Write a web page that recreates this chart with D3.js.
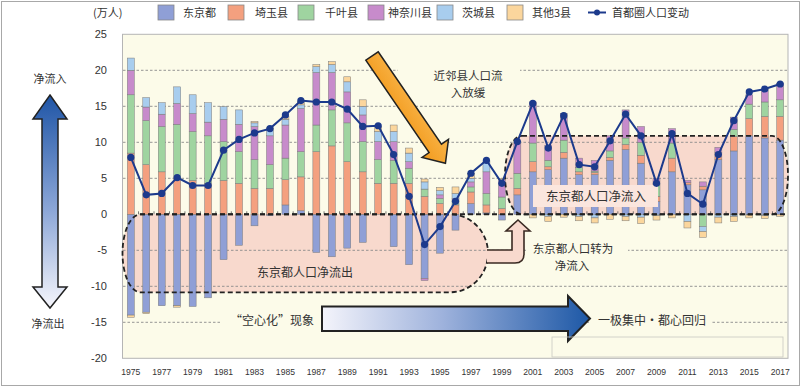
<!DOCTYPE html>
<html>
<head>
<meta charset="utf-8">
<script src="https://cdn.jsdelivr.net/npm/d3@7/dist/d3.min.js"></script>
<style>
  body { margin: 0; background: #fff; }
  svg text { font-family: "Noto Sans CJK SC", "Liberation Sans", sans-serif; fill: #333; }
  .num { font-family: "Liberation Sans", Arial, sans-serif !important; }
</style>
</head>
<body>
<script>
// categories
const years = [1975,1976,1977,1978,1979,1980,1981,1982,1983,1984,
  1985,1986,1987,1988,1989,1990,1991,1992,1993,1994,
  1995,1996,1997,1998,1999,2000,2001,2002,2003,2004,
  2005,2006,2007,2008,2009,2010,2011,2012,2013,2014,
  2015,2016,2017];
const seriesNames = ["东京都", "埼玉县", "千叶县", "神奈川县", "茨城县", "其他3县"];
const lineName = "首都圈人口变动";

// 万人
const tokyo = [-14.0,-13.6,-12.7,-12.7,-12.8,-11.6,-6.3,-4.3,-1.6,-0.2,
  1.3,0.5,-5.3,-5.9,-4.7,-3.9,0,-4.5,-7.0,-8.9,
  -5.4,-2.2,1.5,0.2,-0.8,2.7,5.9,6.2,7.8,5.5,
  5.5,7.5,9.0,7.1,1.8,5.9,4.1,3.4,7.6,8.8,
  10.9,10.6,10.3];
const saitama = [8.5,6.9,5.9,5.0,4.7,4.3,4.7,4.3,3.6,3.6,
  3.5,4.7,8.7,9.5,7.3,5.9,4.3,4.3,4.3,2.5,
  1.5,1.3,1.6,1.1,0.8,0.9,1.4,0.4,0.8,0.4,
  0.3,0.4,0.7,1.1,0.7,1.9,0.3,0.5,1.0,2.0,
  2.4,3.0,3.3];
const chiba = [8.1,6.1,6.3,7.5,6.8,6.6,5.4,4.4,4.0,3.3,
  3.0,3.5,3.7,5.0,5.4,4.2,3.3,3.2,2.1,1.0,
  0.7,0.55,0.7,1.6,1.6,2.1,2.6,0.9,1.7,0.6,
  0.2,0.9,0.9,1.8,1.6,2.1,0,-1.7,0,1.0,
  2.0,2.0,2.3];
const kanagawa = [3.4,1.9,1.7,2.9,2.5,1.9,3.1,3.8,4.6,4.0,
  4.6,6.0,7.3,5.2,4.3,3.7,2.5,2.6,0.9,-0.3,
  0.5,0.35,0.7,3.0,2.4,4.2,5.7,2.1,3.7,1.3,
  1.5,2.1,3.9,2.2,0.9,2.0,0.3,0.6,0.7,1.7,
  1.3,1.7,2.3];
const ibaraki = [1.7,1.3,1.6,2.3,2.6,2.7,1.75,2.0,0.5,0.8,
  0.8,0.5,0.8,1.1,1.4,1.2,1.4,1.4,1.2,1.0,
  0.6,0.7,0.5,1.4,0,0.2,0,-0.3,0,-0.3,
  -0.5,0,-0.3,-0.4,-0.2,0,-1.0,-0.7,-0.4,-0.3,
  -0.1,-0.2,0];
const others = [-0.3,-0.2,0,-0.2,0,0,0,0,0.2,0.3,
  0.4,0.5,0.3,0.4,0.7,0.9,0.7,0.9,0.7,0.4,
  0.45,0.9,0.7,0,0.2,0,-0.5,-0.7,-0.4,-0.6,
  -0.7,-0.7,-0.6,-0.9,-0.6,-0.5,-0.9,-0.8,-0.8,-0.7,
  -0.4,-0.4,-0.3];
const total = [7.9,2.7,2.9,5.1,4.0,4.0,8.9,10.4,11.3,11.9,
  13.8,15.8,15.6,15.6,14.6,12.2,12.3,8.3,2.5,-4.2,
  -1.7,1.8,5.7,7.5,4.3,10.1,15.4,9.2,13.7,6.9,
  6.6,10.2,13.9,10.9,4.3,11.2,2.9,1.4,8.3,13.0,
  17.0,17.4,18.1];
const yTicks = [25,20,15,10,5,0,-5,-10,-15,-20];
const gridTicks = [20,15,10,5,-5,-10,-15];
const xLabels = years.filter(d => d % 2 === 1);

const colors = ["#8f9fd6", "#f4a07f", "#9fd4a0", "#c78bcb", "#a8cdee", "#fbd69d"];
const cream = "#fcfbe9";
const pink = "#f8d9cd";

const W = 805, H = 388;
const svg = d3.select("body").append("svg").attr("width", W).attr("height", H);

const x = d3.scaleBand().domain(years).range([123, 788]).paddingInner(0.55).paddingOuter(0.28);
const y = d3.scaleLinear().domain([-20, 25]).range([358.3, 34.3]);
const cx = d => x(d) + x.bandwidth() / 2;

// gradients
const defs = svg.append("defs");
const gv = defs.append("linearGradient").attr("id", "gv").attr("x1", 0).attr("y1", 0).attr("x2", 0).attr("y2", 1);
gv.append("stop").attr("offset", "0%").attr("stop-color", "#1f55a6");
gv.append("stop").attr("offset", "55%").attr("stop-color", "#8ea8d8");
gv.append("stop").attr("offset", "100%").attr("stop-color", "#f6f6fc");
const gh = defs.append("linearGradient").attr("id", "gh").attr("x1", 0).attr("y1", 0).attr("x2", 1).attr("y2", 0);
gh.append("stop").attr("offset", "0%").attr("stop-color", "#f4f4fb");
gh.append("stop").attr("offset", "45%").attr("stop-color", "#9eb2dc");
gh.append("stop").attr("offset", "100%").attr("stop-color", "#1d58a6");
const go = defs.append("linearGradient").attr("id", "go").attr("x1", 0).attr("y1", 0).attr("x2", 0).attr("y2", 1);
go.append("stop").attr("offset", "0%").attr("stop-color", "#f9b54a");
go.append("stop").attr("offset", "100%").attr("stop-color", "#f29a1c");

// outer frame + plot area
svg.append("rect").attr("x", 1.5).attr("y", 1.5).attr("width", 798).attr("height", 384)
  .attr("fill", "#fff").attr("stroke", "#a8a8a8");
svg.append("rect").attr("x", 122.5).attr("y", y(25)).attr("width", 665.5).attr("height", y(-20) - y(25))
  .attr("fill", cream).attr("stroke", "#b5b5b5");

// pink regions
const y0 = y(0);
const leftRegion = `M140,${y0} L450,${y0} A38,39 0 0 1 488,${y0+39} A38,39 0 0 1 450,${y0+78}
  L140,${y0+78} A18,39 0 0 1 122.5,${y0+39} A18,39 0 0 1 140,${y0} Z`;
const rTop = y(10.9);
const rightRegion = `M522,${rTop} L772,${rTop} A16,39 0 0 1 788,${(rTop+y0)/2} A16,39 0 0 1 772,${y0}
  L522,${y0} A17,39 0 0 1 505,${(rTop+y0)/2} A17,39 0 0 1 522,${rTop} Z`;
svg.append("path").attr("d", leftRegion).attr("fill", pink);
svg.append("path").attr("d", rightRegion).attr("fill", pink);

// gridlines
svg.append("g").selectAll("line").data(gridTicks).join("line")
  .attr("x1", 123).attr("x2", 787).attr("y1", d => y(d)).attr("y2", d => y(d))
  .attr("stroke", "#8a8a8a").attr("stroke-width", 0.9).attr("stroke-dasharray", "2.5,2");

// cream boxes that break the grid behind annotation text
[[398, 62, 122, 40], [526, 240, 102, 32], [221, 311, 101, 22], [590, 309, 122, 24]].forEach(b =>
  svg.append("rect").attr("x", b[0]).attr("y", b[1]).attr("width", b[2]).attr("height", b[3]).attr("fill", cream));

// stacked bars
const rows = years.map((yr, i) => ({
  year: yr, "东京都": tokyo[i], "埼玉县": saitama[i], "千叶县": chiba[i],
  "神奈川县": kanagawa[i], "茨城县": ibaraki[i], "其他3县": others[i]
}));
const stack = d3.stack().keys(seriesNames).offset(d3.stackOffsetDiverging)(rows);
svg.append("g").selectAll("g").data(stack).join("g")
  .attr("fill", (d, i) => colors[i])
  .selectAll("rect").data(d => d).join("rect")
  .attr("x", d => x(d.data.year)).attr("width", x.bandwidth())
  .attr("y", d => y(Math.max(d[0], d[1])))
  .attr("height", d => Math.abs(y(d[0]) - y(d[1])))
  .attr("stroke", "#7a7a7a").attr("stroke-width", 0.5);

// small ticks on the zero line
svg.append("g").selectAll("line").data(years.slice(0, -1)).join("line")
  .attr("x1", d => x(d) + x.step() - (x.step() - x.bandwidth()) / 2)
  .attr("x2", d => x(d) + x.step() - (x.step() - x.bandwidth()) / 2)
  .attr("y1", y0 - 3).attr("y2", y0).attr("stroke", "#555").attr("stroke-width", 0.8);

// dashed outlines
svg.append("path").attr("d", leftRegion).attr("fill", "none").attr("stroke", "#222")
  .attr("stroke-width", 1.8).attr("stroke-dasharray", "5,3");
svg.append("path").attr("d", rightRegion).attr("fill", "none").attr("stroke", "#222")
  .attr("stroke-width", 1.8).attr("stroke-dasharray", "5,3");
svg.append("line").attr("x1", 140).attr("x2", 788).attr("y1", y0).attr("y2", y0)
  .attr("stroke", "#222").attr("stroke-width", 2).attr("stroke-dasharray", "5,3");

// label box inside the right region
svg.append("rect").attr("x", 533).attr("y", 185).attr("width", 125).attr("height", 22).attr("fill", "#fbe6de");
svg.append("text").attr("x", 596).attr("y", 200.5).attr("text-anchor", "middle")
  .attr("font-size", 12.5).text("东京都人口净流入");
svg.append("text").attr("x", 305).attr("y", 277).attr("text-anchor", "middle")
  .attr("font-size", 12).text("东京都人口净流出");

// total line
svg.append("path").datum(total)
  .attr("d", d3.line().x((d, i) => cx(years[i])).y(d => y(d)))
  .attr("fill", "none").attr("stroke", "#1c3a8c").attr("stroke-width", 2);
svg.append("g").selectAll("circle").data(total).join("circle")
  .attr("cx", (d, i) => cx(years[i])).attr("cy", d => y(d)).attr("r", 3.6).attr("fill", "#1c3a8c");

// axis labels
svg.append("g").selectAll("text").data(yTicks).join("text").attr("class", "num")
  .attr("x", 107).attr("y", d => y(d) + 4).attr("text-anchor", "end")
  .attr("font-size", 11).text(d => d);
svg.append("g").selectAll("text").data(xLabels).join("text").attr("class", "num")
  .attr("x", d => cx(d)).attr("y", 375).attr("text-anchor", "middle")
  .attr("font-size", 8.6).text(d => d);

// orange arrow
const oa = svg.append("g").attr("transform", "translate(372,56) rotate(55.6)");
oa.append("polygon").attr("points", "0,-7.5 112,-7.5 112,-16 130,0 112,16 112,7.5 0,7.5")
  .attr("fill", "url(#go)").attr("stroke", "#222").attr("stroke-width", 1.5);
svg.append("text").attr("x", 468).attr("y", 80).attr("text-anchor", "middle").attr("font-size", 11.5).text("近邻县人口流");
svg.append("text").attr("x", 468).attr("y", 97).attr("text-anchor", "middle").attr("font-size", 11.5).text("入放缓");

// hook arrow
svg.append("path")
  .attr("d", "M487,250 L512,250 L512,231 L506,231 L518,220 L530,231 L524,231 L524,254 Q524,263 515,263 L487,263")
  .attr("fill", pink).attr("stroke", "#3a2a22").attr("stroke-width", 1.6);
svg.append("text").attr("x", 573).attr("y", 253).attr("text-anchor", "middle").attr("font-size", 11.5).text("东京都人口转为");
svg.append("text").attr("x", 572).attr("y", 270).attr("text-anchor", "middle").attr("font-size", 11.5).text("净流入");

// vertical double arrow
svg.append("polygon")
  .attr("points", "50,95 67,119 58,119 58,287 67,287 50,308 33,287 42,287 42,119 33,119")
  .attr("fill", "url(#gv)").attr("stroke", "#222").attr("stroke-width", 1.5);
svg.append("text").attr("x", 50).attr("y", 83).attr("text-anchor", "middle").attr("font-size", 11).text("净流入");
svg.append("text").attr("x", 48).attr("y", 328).attr("text-anchor", "middle").attr("font-size", 11).text("净流出");

// horizontal arrow
svg.append("polygon")
  .attr("points", "322,306.5 568,306.5 568,296 590,318.5 568,341 568,331 322,331")
  .attr("fill", "url(#gh)").attr("stroke", "#222").attr("stroke-width", 2);
svg.append("text").attr("x", 272).attr("y", 325).attr("text-anchor", "middle").attr("font-size", 12).text("“空心化”现象");
svg.append("text").attr("x", 652).attr("y", 325).attr("text-anchor", "middle").attr("font-size", 12).text("一极集中·都心回归");

// faint box bottom right
svg.append("rect").attr("x", 552).attr("y", 337).attr("width", 231).attr("height", 20)
  .attr("fill", "none").attr("stroke", "#c8c8c0").attr("stroke-width", 0.8);

// legend
const legendX = [158, 228, 298, 368, 437, 507];
const legendTextX = [183, 255, 325, 388, 462, 532];
svg.append("text").attr("x", 93).attr("y", 17).attr("font-size", 11).text("(万人)");
seriesNames.forEach((name, i) => {
  svg.append("rect").attr("x", legendX[i]).attr("y", 5).attr("width", 16).attr("height", 15)
    .attr("fill", colors[i]).attr("stroke", "#888").attr("stroke-width", 0.8);
  svg.append("text").attr("x", legendTextX[i]).attr("y", 17).attr("font-size", 11).text(name);
});
svg.append("line").attr("x1", 588).attr("x2", 606).attr("y1", 12.5).attr("y2", 12.5)
  .attr("stroke", "#1c3a8c").attr("stroke-width", 2);
svg.append("circle").attr("cx", 597).attr("cy", 12.5).attr("r", 3).attr("fill", "#1c3a8c");
svg.append("text").attr("x", 612).attr("y", 17).attr("font-size", 11).text(lineName);
</script>
</body>
</html>
